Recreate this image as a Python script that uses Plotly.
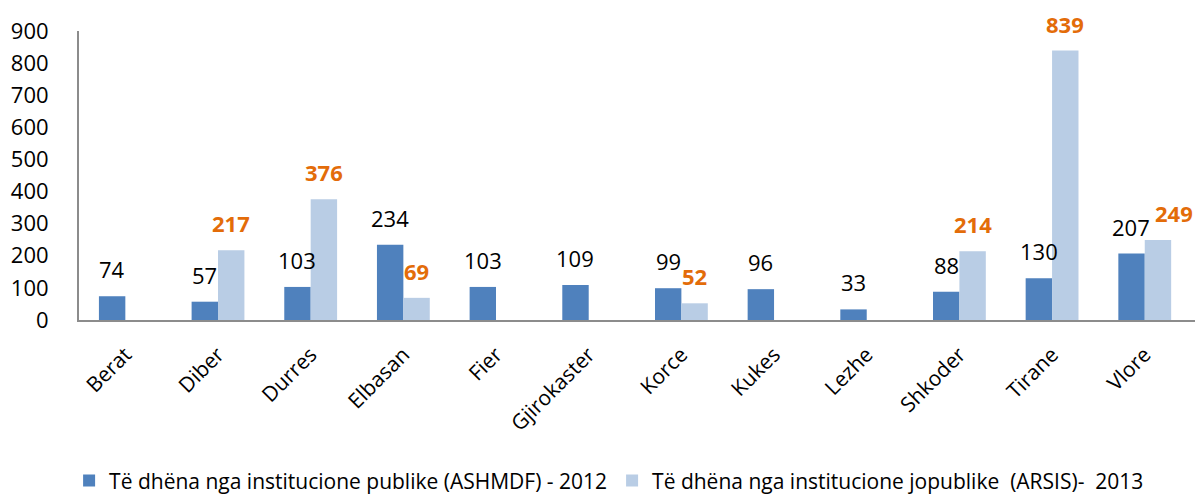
import plotly.graph_objects as go

categories = ["Berat", "Diber", "Durres", "Elbasan", "Fier", "Gjirokaster",
              "Korce", "Kukes", "Lezhe", "Shkoder", "Tirane", "Vlore"]
public_2012 = [74, 57, 103, 234, 103, 109, 99, 96, 33, 88, 130, 207]
nonpublic_2013 = [None, 217, 376, 69, None, None, 52, None, None, 214, 839, 249]
name_public = "Të dhëna nga institucione publike (ASHMDF) - 2012"
name_nonpublic = "Të dhëna nga institucione jopublike\u00a0\u00a0(ARSIS)-\u00a0\u00a02013"
y_ticks = [0, 100, 200, 300, 400, 500, 600, 700, 800, 900]

FONT = "Open Sans"
DARK = "#4F81BD"
LIGHT = "#B9CDE5"
ORANGE = "#E36C09"

fig = go.Figure()
fig.add_trace(go.Bar(x=categories, y=public_2012, name=name_public,
                     marker=dict(color=DARK, line=dict(width=0))))
fig.add_trace(go.Bar(x=categories, y=nonpublic_2013, name=name_nonpublic,
                     marker=dict(color=LIGHT, line=dict(width=0))))

plot_w = 1201 - 79 - 6
bargap = 0.43
bar_w = plot_w / len(categories) * (1 - bargap) / 2
annotations = []
for c, v in zip(categories, public_2012):
    annotations.append(dict(x=c, y=v, text=str(v), showarrow=False,
                            xshift=-bar_w / 2, yshift=27, yanchor="middle",
                            font=dict(family=FONT, size=22, color="black")))
for i, (c, v) in enumerate(zip(categories, nonpublic_2013)):
    if v is None:
        continue
    extra = 16 if i == len(categories) - 1 else 0
    annotations.append(dict(x=c, y=v, text="<b>%d</b>" % v, showarrow=False,
                            xshift=bar_w / 2 + extra, yshift=27, yanchor="middle",
                            font=dict(family=FONT, size=22, color=ORANGE)))

fig.update_layout(
    width=1201, height=495,
    margin=dict(l=79, r=6, t=31, b=175, autoexpand=False),
    paper_bgcolor="white", plot_bgcolor="white",
    barmode="group", bargap=bargap, bargroupgap=0,
    font=dict(family=FONT, size=22, color="black"),
    annotations=annotations,
    showlegend=True,
    legend=dict(orientation="h", x=0.475, xanchor="center", y=-0.557, yanchor="middle",
                font=dict(family=FONT, size=21, color="black"),
                itemwidth=30, traceorder="normal"),
)
fig.update_xaxes(showline=True, linecolor="#8C8C8C", linewidth=2, tickangle=-45,
                 showgrid=False, ticks="", ticklabelstandoff=12, automargin=False,
                 tickfont=dict(family=FONT, size=21, color="black"))
fig.update_yaxes(range=[0, 900], tickvals=y_ticks, showline=True, linecolor="#8C8C8C",
                 linewidth=2, showgrid=False, zeroline=False, ticks="", automargin=False,
                 ticklabelstandoff=24, tickfont=dict(family=FONT, size=22, color="black"))

fig.write_html("out.html", config={"displayModeBar": False},
               post_script="document.body.style.margin='0';document.body.style.overflow='hidden';")
